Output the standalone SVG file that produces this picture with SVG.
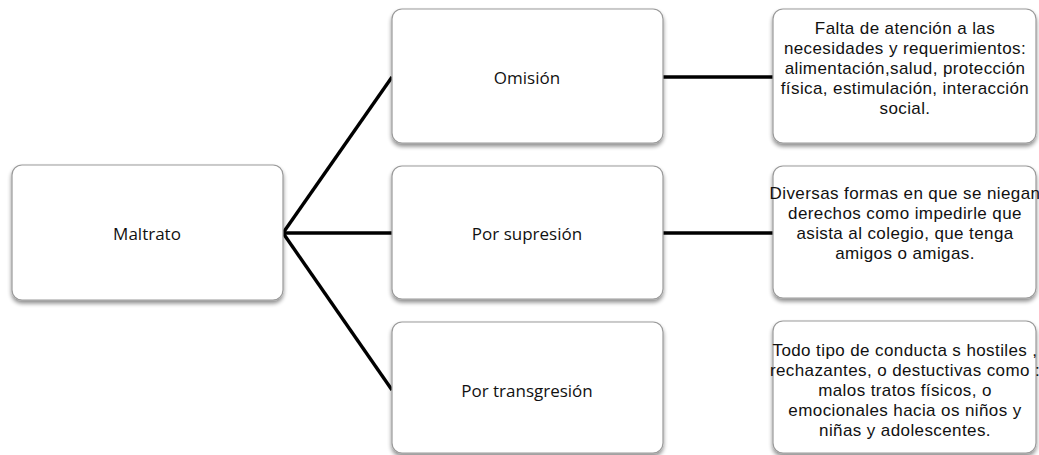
<svg xmlns="http://www.w3.org/2000/svg" width="1039" height="455" viewBox="0 0 1039 455">
<defs>
<filter id="sh" x="-10%" y="-10%" width="120%" height="130%">
<feGaussianBlur in="SourceAlpha" stdDeviation="2"/>
<feOffset dx="0" dy="3"/>
<feComponentTransfer><feFuncA type="linear" slope="0.45"/></feComponentTransfer>
<feMerge><feMergeNode/><feMergeNode in="SourceGraphic"/></feMerge>
</filter>
</defs>
<style>
.box{fill:#fff;stroke:#9a9a9a;stroke-width:1.2;filter:url(#sh)}
.t{font-family:"Open Sans","Noto Sans","Liberation Sans",sans-serif;font-size:17px;fill:#111;text-anchor:middle;dominant-baseline:central}
.d{font-family:"Liberation Sans",Arial,sans-serif;font-size:17px;letter-spacing:0.4px;fill:#111;text-anchor:middle;dominant-baseline:central}
.c{stroke:#000;stroke-width:3.4;fill:none}
</style>
<rect width="1039" height="455" fill="#fff"/>
<g id="connectors">
<line class="c" x1="283" y1="233" x2="392" y2="77"/>
<line class="c" x1="283" y1="233" x2="392" y2="233"/>
<line class="c" x1="283" y1="233" x2="392" y2="390"/>
<line class="c" x1="663" y1="77" x2="773" y2="77"/>
<line class="c" x1="663" y1="233" x2="773" y2="233"/>
</g>
<g id="maltrato">
<rect class="box" x="12" y="165" width="271" height="135" rx="10"/>
<text class="t" x="147" y="233">Maltrato</text>
</g>
<g id="omision">
<rect class="box" x="392" y="9" width="271" height="134" rx="10"/>
<text class="t" x="527" y="77">Omisión</text>
</g>
<g id="supresion">
<rect class="box" x="392" y="166" width="271" height="133" rx="10"/>
<text class="t" x="527" y="233">Por supresión</text>
</g>
<g id="transgresion">
<rect class="box" x="392" y="322" width="271" height="131" rx="10"/>
<text class="t" x="527" y="390">Por transgresión</text>
</g>
<g id="desc-omision">
<rect class="box" x="773" y="9" width="263" height="134" rx="10"/>
<text class="d" x="905" y="28">Falta de atención a las</text>
<text class="d" x="905" y="48">necesidades y requerimientos:</text>
<text class="d" x="905" y="68">alimentación,salud, protección</text>
<text class="d" x="905" y="88">física, estimulación, interacción</text>
<text class="d" x="905" y="108">social.</text>
</g>
<g id="desc-supresion">
<rect class="box" x="773" y="166" width="263" height="132" rx="10"/>
<text class="d" x="905" y="193">Diversas formas en que se niegan</text>
<text class="d" x="905" y="213">derechos como impedirle que</text>
<text class="d" x="905" y="233">asista al colegio, que tenga</text>
<text class="d" x="905" y="253">amigos o amigas.</text>
</g>
<g id="desc-transgresion">
<rect class="box" x="773" y="321" width="263" height="132" rx="10"/>
<text class="d" x="905" y="350">Todo tipo de conducta s hostiles ,</text>
<text class="d" x="905" y="370">rechazantes, o destuctivas como :</text>
<text class="d" x="905" y="390">malos tratos físicos, o</text>
<text class="d" x="905" y="410">emocionales hacia os niños y</text>
<text class="d" x="905" y="430">niñas y adolescentes.</text>
</g>
</svg>
